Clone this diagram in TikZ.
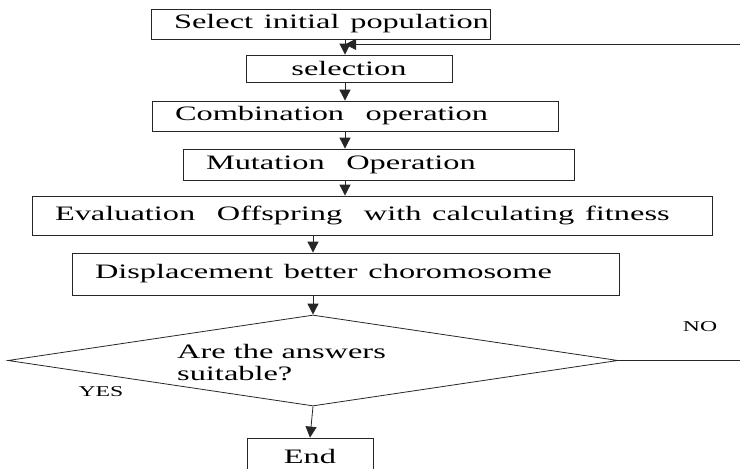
\documentclass[tikz,border=0pt]{standalone}
\usepackage{fontspec}
\setmainfont{Liberation Serif}
\usepackage{graphicx}
\usetikzlibrary{calc}
\usetikzlibrary{arrows.meta}
\usetikzlibrary{shapes.geometric}

\newcommand{\wtxt}[1]{\scalebox{1.58}[1]{#1}}

\tikzset{
  stagebox/.style={draw=black!85,thick,rectangle,inner ysep=0pt,inner xsep=23pt,align=left,font=\fontsize{20.5}{22}\selectfont},
  flowarrow/.style={black!85,thick,-{Triangle[width=11pt,length=11pt]}},
  answer/.style={inner sep=0pt,font=\fontsize{15}{16}\selectfont}
}

\begin{document}
\begin{tikzpicture}[x=1pt,y=-1pt]

\useasboundingbox (0,0) rectangle (740,469);

\coordinate (U) at (345,0);
\coordinate (L) at (313,0);
\coordinate (R) at (742,0);

\node[stagebox,minimum height=30pt,text width=293pt] (init) at (320.5,24) {\wtxt{Select initial population}};
\node[stagebox,align=center,inner xsep=0pt,minimum width=206pt,minimum height=27pt] (sel) at (349,68.5) {\wtxt{selection}};
\node[stagebox,minimum height=30pt,text width=360pt] (comb) at (355,116) {\wtxt{Combination\ \ operation}};
\node[stagebox,minimum height=31pt,text width=345pt] (mut) at (378.5,164.5) {\wtxt{Mutation\ \ Operation}};
\node[stagebox,minimum height=39pt,text width=634pt] (eval) at (372,215.5) {\wtxt{Evaluation\ \ Offspring\ \ with calculating\ fitness}};
\node[stagebox,minimum height=42pt,text width=501pt] (disp) at (345.5,274) {\wtxt{Displacement\ better choromosome}};

\node[diamond,draw=black!85,thick,minimum width=610pt,minimum height=91pt,inner sep=0pt] (q) at (313,360.5) {};
\node[anchor=base west,inner sep=0pt,font=\fontsize{20.5}{22}\selectfont] (qtext) at (177,358)
  {\wtxt{\begin{tabular}[t]{@{}l@{}}Are the answers\\suitable?\end{tabular}}};
\node[answer] (no) at (700,327) {\wtxt{NO}};
\node[answer] (yes) at (101,392) {\wtxt{YES}};

\node[stagebox,align=center,inner xsep=0pt,minimum width=126pt,minimum height=36pt] (done) at (310,456) {\wtxt{End}};

\coordinate (J) at ($(init.south -| U)+(0,5)$);

\draw[flowarrow] (init.south -| U) -- (sel.north -| U);
\draw[flowarrow] (sel.south -| U) -- (comb.north -| U);
\draw[flowarrow] (comb.south -| U) -- (mut.north -| U);
\draw[flowarrow] (mut.south -| U) -- (eval.north -| U);
\draw[flowarrow] (eval.south -| L) -- (disp.north -| L);
\draw[flowarrow] (disp.south -| L) -- (q.north);
\draw[flowarrow] (q.south) -- (done.north);
\draw[flowarrow] (q.east) -- (q.east -| R) |- (J);

\end{tikzpicture}
\end{document}
